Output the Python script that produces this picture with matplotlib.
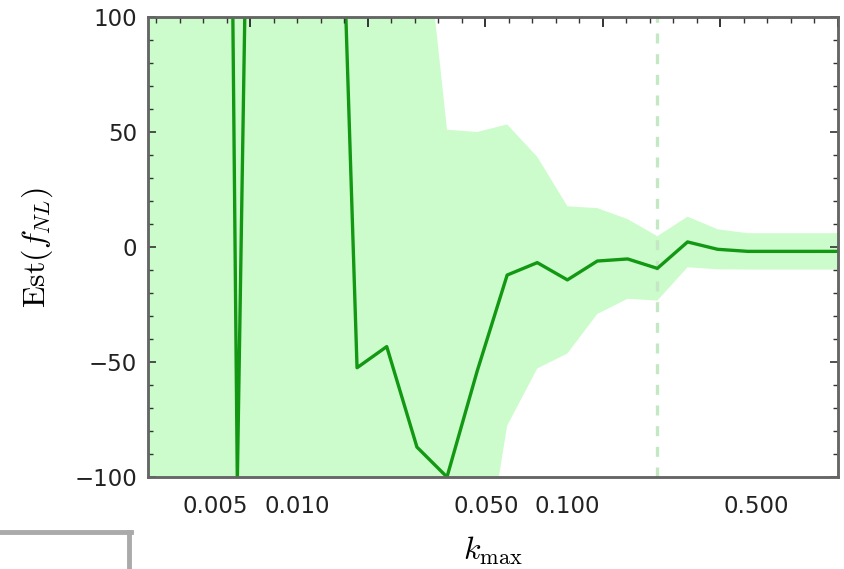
import numpy as np
import matplotlib.pyplot as plt
import matplotlib.ticker as mticker
from matplotlib.lines import Line2D

# k_max values (log spaced)
kmax = [0.00278, 0.00359, 0.00464, 0.00603, 0.00774, 0.0100, 0.0129, 0.0167,
        0.0215, 0.0278, 0.0359, 0.0464, 0.0599, 0.0774, 0.100, 0.129, 0.167,
        0.215, 0.278, 0.359, 0.464, 0.599, 0.774, 1.0]
# estimate of f_NL
est = [1500, 2200, 1290, -102, 693, 850, 362, -52.5, -43.3, -87, -100, -54,
       -12.2, -6.8, -14.3, -6.1, -5.2, -9.3, 2.2, -1.0, -1.9, -1.9, -1.9, -1.9]
# 1-sigma error
sigma = [3000, 3000, 3000, 1500, 1200, 1000, 600, 400, 330, 260, 151, 104,
         65.5, 46, 32, 23, 17.3, 14, 11, 8.7, 7.9, 7.9, 7.9, 7.9]
k_mark = 0.215

xticks = [0.005, 0.01, 0.05, 0.1, 0.5]
xticklabels = ["0.005", "0.010", "0.050", "0.100", "0.500"]
yticks = [-100, -50, 0, 50, 100]

plt.rcParams['mathtext.fontset'] = 'cm'

k = np.array(kmax)
e = np.array(est)
s = np.array(sigma)

fig = plt.figure(figsize=(8.44, 5.69), dpi=100)
ax = fig.add_axes([148/844, 1-477/569, 690/844, 460/569])

ax.fill_between(k, e - s, e + s, color='#ccfccc', lw=0, zorder=1)
ax.plot(k, e, color='#139813', lw=2.4, zorder=3)
ax.axvline(k_mark, color='#c4e8c4', lw=2.4, ls=(0, (3, 3.2)), zorder=2)

ax.set_xscale('log')
ax.set_xlim(0.00282, 1.0)
ax.set_ylim(-100, 100)

ax.xaxis.set_major_locator(mticker.FixedLocator(xticks))
ax.xaxis.set_major_formatter(mticker.FixedFormatter(xticklabels))
ax.xaxis.set_minor_locator(mticker.NullLocator())
ax.set_yticks(yticks)
ax.set_yticklabels([str(v).replace('-', '\u2212') for v in yticks])
ax.yaxis.set_minor_locator(mticker.MultipleLocator(10))

ax.tick_params(axis='x', which='both', bottom=False, top=False, length=0,
               labelsize=16.5, pad=13)
ax.tick_params(axis='y', which='major', direction='in', length=6, width=1.2,
               left=True, right=True, labelsize=16.5, colors='#333333', pad=8)
ax.tick_params(axis='y', which='minor', direction='in', length=3.5, width=1,
               left=True, right=True, colors='#333333')
for lab in ax.get_yticklabels() + ax.get_xticklabels():
    lab.set_color('#222222')

# top frame ticks at powers of e
top = ax.twiny()
top.set_xscale('log')
top.set_xlim(ax.get_xlim())
top.xaxis.set_major_locator(mticker.FixedLocator(np.exp(np.arange(-6, 1))))
top.xaxis.set_minor_locator(mticker.FixedLocator(np.exp(np.arange(-6, 0.01, 0.2))))
top.xaxis.set_major_formatter(mticker.NullFormatter())
top.xaxis.set_minor_formatter(mticker.NullFormatter())
top.tick_params(axis='x', which='major', direction='in', length=7, width=1.4,
                colors='#333333')
top.tick_params(axis='x', which='minor', direction='in', length=4, width=1,
                colors='#333333')

for a in (ax, top):
    for sp in a.spines.values():
        sp.set_color('#666666')
        sp.set_linewidth(1.8)

ax.set_ylabel(r'$\mathrm{Est}(f_{NL})$', fontsize=23, labelpad=14)
ax.set_xlabel(r'$k_{\max}$', fontsize=23, labelpad=12)

# fragment of the neighbouring panel frame
fig.add_artist(Line2D([0, 131/844], [1-532/569, 1-532/569], color='#aaaaaa',
                      lw=3.5, transform=fig.transFigure))
fig.add_artist(Line2D([129/844, 129/844], [1-532/569, 0], color='#aaaaaa',
                      lw=3.5, transform=fig.transFigure))

fig.savefig('out.png', dpi=100)
